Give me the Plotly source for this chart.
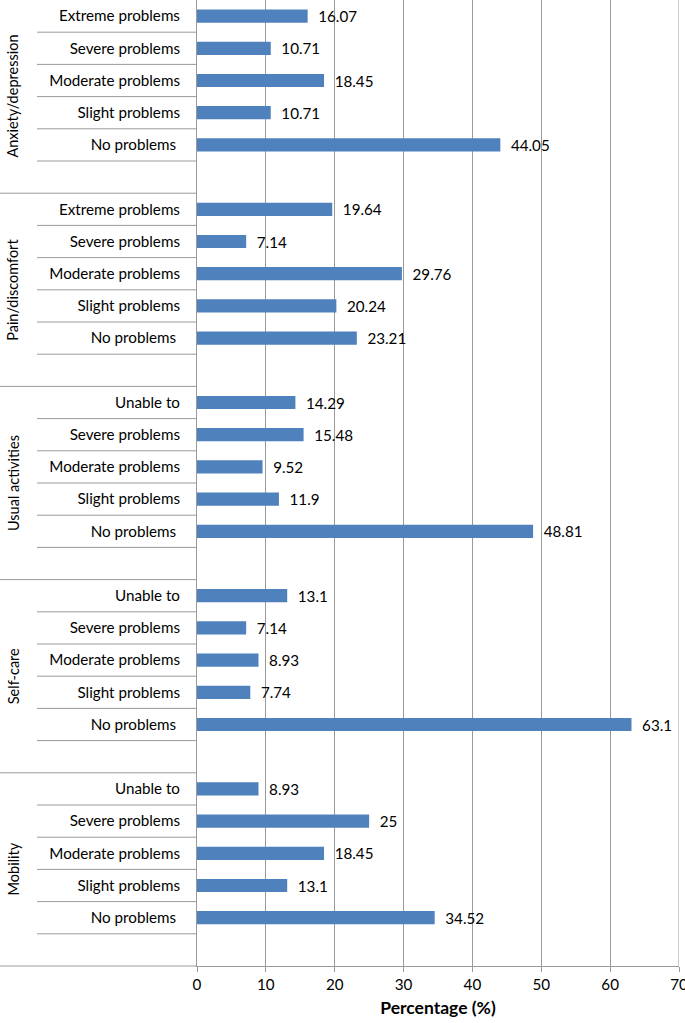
import plotly.graph_objects as go

groups = ["Mobility", "Self-care", "Usual activities", "Pain/discomfort", "Anxiety/depression"]
levels_a = ["No problems\u00a0", "Slight problems", "Moderate problems", "Severe problems", "Unable to"]
levels_b = ["No problems\u00a0", "Slight problems", "Moderate problems", "Severe problems", "Extreme problems"]
group_levels = [levels_a, levels_a, levels_a, levels_b, levels_b]

mobility = [34.52, 13.1, 18.45, 25, 8.93]
self_care = [63.1, 7.74, 8.93, 7.14, 13.1]
usual_activities = [48.81, 11.9, 9.52, 15.48, 14.29]
pain_discomfort = [23.21, 20.24, 29.76, 7.14, 19.64]
anxiety_depression = [44.05, 10.71, 18.45, 10.71, 16.07]
group_values = [mobility, self_care, usual_activities, pain_discomfort, anxiety_depression]

x_ticks = [0, 10, 20, 30, 40, 50, 60, 70]

SLOTS = 6  # 5 levels + 1 blank slot per group
n_slots = SLOTS * len(groups)

ys, xs, labels, texts = [], [], [], []
for g, (lv, vals) in enumerate(zip(group_levels, group_values)):
    for s, (lab, v) in enumerate(zip(lv, vals)):
        pos = g * SLOTS + s + 1
        ys.append(pos)
        xs.append(v)
        labels.append(lab)
        texts.append("\u2002" + f"{v:g}")

FONT = "Lato"
FS = 15.2
GRID = "#9a9a9a"
fig = go.Figure()
fig.add_trace(go.Bar(
    x=xs, y=ys, orientation="h",
    marker=dict(color="#4F81BD", line=dict(width=0)),
    text=texts, textposition="outside", cliponaxis=False,
    constraintext="none",
    textfont=dict(family=FONT, size=FS, color="black"),
    width=0.41,
))

L, R, T, B = 197, 6, 0, 57
W, H = 685, 1023
pw = W - L - R

shapes = []
for g in range(len(groups)):
    base = g * SLOTS
    for k in range(1, SLOTS):
        yp = (base + k) / n_slots
        shapes.append(dict(type="line", xref="paper", yref="paper",
                           x0=(37 - L) / pw, x1=0, y0=yp, y1=yp,
                           line=dict(color=GRID, width=1)))
    yp = base / n_slots
    shapes.append(dict(type="line", xref="paper", yref="paper",
                       x0=-L / pw, x1=0, y0=yp, y1=yp,
                       line=dict(color=GRID, width=1)))
# gridline at the last tick (plotly drops gridlines at the range edge)
shapes.append(dict(type="line", xref="x", yref="paper",
                   x0=x_ticks[-1], x1=x_ticks[-1], y0=0, y1=1,
                   line=dict(color=GRID, width=1)))

annotations = []
for g, name in enumerate(groups):
    center = g * SLOTS + (SLOTS - 1) / 2
    annotations.append(dict(text=name, textangle=-90, xref="paper", yref="y",
                            x=(13 - L) / pw, y=center, showarrow=False,
                            xanchor="center", yanchor="middle",
                            font=dict(family=FONT, size=14.5, color="black")))

fig.update_layout(
    width=W, height=H,
    margin=dict(l=L, r=R, t=T, b=B),
    plot_bgcolor="white", paper_bgcolor="white",
    showlegend=False,
    shapes=shapes, annotations=annotations,
    xaxis=dict(range=[0, x_ticks[-1]], tickvals=x_ticks, showgrid=True, automargin=False,
               gridcolor=GRID, gridwidth=1, zeroline=False,
               showline=True, linecolor=GRID, linewidth=1,
               ticks="outside", ticklen=5, tickcolor=GRID,
               ticklabeloverflow="allow",
               tickfont=dict(family=FONT, size=FS, color="black"),
               title=dict(text="<b>Percentage (%)</b>", standoff=9,
                          font=dict(family=FONT, size=17.5, color="black"))),
    yaxis=dict(range=[-0.5, n_slots - 0.5], tickvals=ys, ticktext=labels,
               showgrid=False, zeroline=False, showline=True, automargin=False,
               linecolor=GRID, linewidth=1, ticks="",
               ticklabelstandoff=13,
               tickfont=dict(family=FONT, size=FS, color="black")),
)

fig.write_html("out.html", config={"displayModeBar": False},
               post_script="document.body.style.margin='0';document.body.style.overflow='hidden';")
